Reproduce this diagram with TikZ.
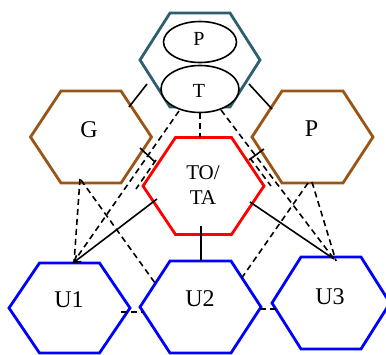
\documentclass[tikz,border=0pt]{standalone}
\usepackage{fontspec}
\setmainfont{Liberation Serif}
\usetikzlibrary{shapes.geometric,arrows.meta}
\definecolor{tealc}{RGB}{45,95,110}
\definecolor{brownc}{RGB}{153,85,22}
\definecolor{redc}{RGB}{255,0,0}
\definecolor{bluec}{RGB}{0,0,255}
\newcommand\hexshape[6]{%
 \draw[#1] ({#2-#4},#3) -- ({#2-#5},{#3-#6}) -- ({#2+#5},{#3-#6}) -- ({#2+#4},#3) -- ({#2+#5},{#3+#6}) -- ({#2-#5},{#3+#6}) -- cycle;}
\tikzset{
 hexline/.style={line width=2.8pt, line join=miter},
 conn/.style={line width=1.6pt, black},
 dconn/.style={line width=1.6pt, black, dash pattern=on 6pt off 4pt},
 biglbl/.style={inner sep=0pt, font=\fontsize{24}{24}\selectfont},
 smalllbl/.style={inner sep=0pt, font=\fontsize{20}{24}\selectfont, align=center},
 midlbl/.style={inner sep=0pt, font=\fontsize{21}{25}\selectfont, align=center},
 ell/.style={ellipse, draw, fill=white, line width=1.6pt, inner sep=0pt}
}
\begin{document}
\begin{tikzpicture}[x=1pt,y=-1pt]
\useasboundingbox (0,0) rectangle (386,354);
% hexagons
\hexshape{hexline,tealc}{200}{60}{60}{30}{47}
\hexshape{hexline,brownc}{91}{137}{60.5}{30}{46}
\hexshape{hexline,brownc}{312.5}{137}{60.5}{30.5}{46}
\hexshape{hexline,redc}{203.5}{186}{60.5}{28}{48.5}
\hexshape{hexline,bluec}{69.5}{308}{60.5}{30}{45}
\hexshape{hexline,bluec}{200.5}{307}{60.5}{30.5}{46}
\hexshape{hexline,bluec}{331}{303}{59}{30}{46}
% ellipses
\node[ell, minimum width=73pt, minimum height=41pt] (Pell) at (200,42) {};
\node[ell, minimum width=78pt, minimum height=47pt] (Tell) at (200,89) {};
% labels
\node[smalllbl] (Ptop) at (199,38.5) {P};
\node[smalllbl] (Ttop) at (199,91) {T};
\node[biglbl] (G) at (89,129.5) {G};
\node[biglbl] (Pr) at (311.5,128.5) {P};
\node[midlbl] (TOTA) at (203,185.5) {TO/\\TA};
\node[biglbl] (U1) at (69,300) {U1};
\node[biglbl] (U2) at (200,298.5) {U2};
\node[biglbl] (U3) at (330,296.5) {U3};
% connector end points
\coordinate (tG) at (147,84);   \coordinate (gT) at (129,107);
\coordinate (tP) at (249,84);   \coordinate (pT) at (272,109);
\coordinate (gX) at (140,148);  \coordinate (xG) at (155,162);
\coordinate (pX) at (264,149);  \coordinate (xP) at (249,160);
\coordinate (xU1) at (157,199); \coordinate (u1X) at (73,263);
\coordinate (xU2) at (201,226); \coordinate (u2X) at (201,261);
\coordinate (xU3) at (250,202); \coordinate (u3X) at (334,259);
\coordinate (tX) at (200,113);  \coordinate (xT) at (200,137);
\coordinate (tU1) at (179,111); \coordinate (u1T) at (73,263);
\coordinate (tU3) at (221,110); \coordinate (u3T) at (334,259);
\coordinate (gU1) at (80,179);  \coordinate (u1G) at (74,263);
\coordinate (gU2) at (81,180);  \coordinate (u2G) at (155,283);
\coordinate (pU3) at (312,182); \coordinate (u3P) at (336,261);
\coordinate (pU2) at (308,183); \coordinate (u2P) at (241,279);
\coordinate (u1U2) at (121,312); \coordinate (u2U1) at (143,312);
\coordinate (u2U3) at (260,309); \coordinate (u3U2) at (277,309);
\coordinate (sl1) at (156,160); \coordinate (sl2) at (136,189);
\coordinate (sr1) at (250,158); \coordinate (sr2) at (271,186);
% solid connectors
\draw[conn] (tG) -- (gT);
\draw[conn] (tP) -- (pT);
\draw[conn] (gX) -- (xG);
\draw[conn] (pX) -- (xP);
\draw[conn,-{Straight Barb[length=6pt,width=8pt]}] (xU1) -- (u1X);
\draw[conn] (xU2) -- (u2X);
\draw[conn] (xU3) -- (u3X);
% dashed connectors
\draw[dconn] (tX) -- (xT);
\draw[dconn] (tU1) -- (u1T);
\draw[dconn] (tU3) -- (u3T);
\draw[dconn] (gU1) -- (u1G);
\draw[dconn] (gU2) -- (u2G);
\draw[dconn] (pU3) -- (u3P);
\draw[dconn] (pU2) -- (u2P);
\draw[dconn] (u1U2) -- (u2U1);
\draw[dconn] (u2U3) -- (u3U2);
\draw[dconn] (sl1) -- (sl2);
\draw[dconn] (sr1) -- (sr2);
\end{tikzpicture}
\end{document}
